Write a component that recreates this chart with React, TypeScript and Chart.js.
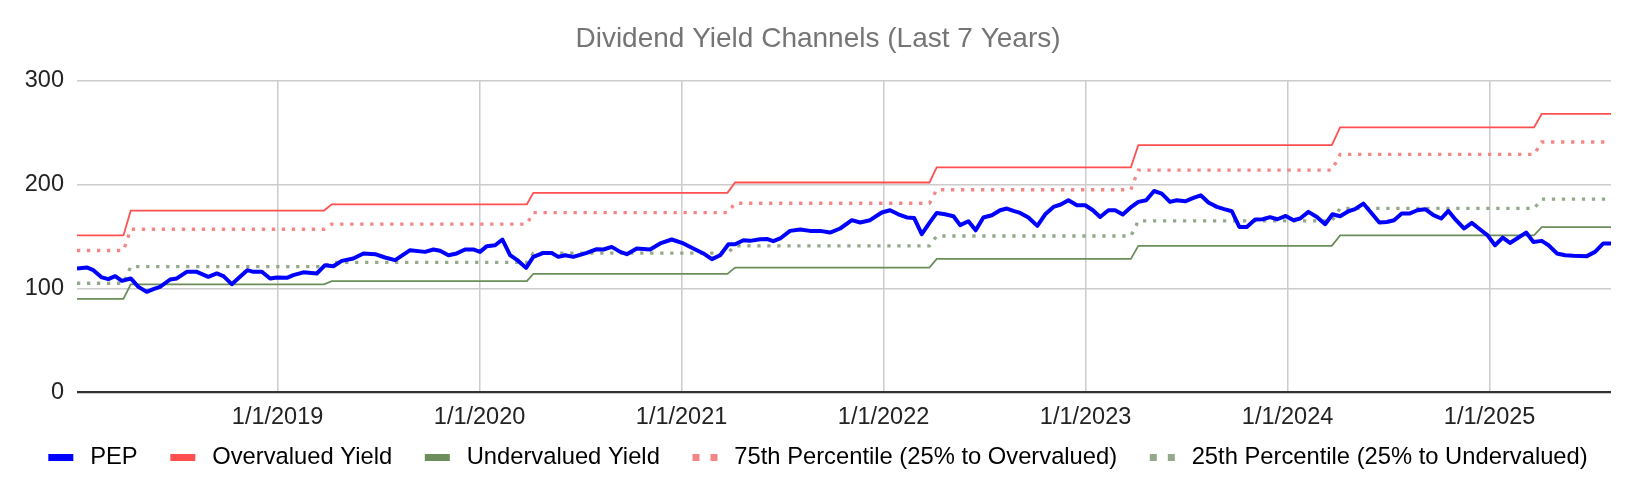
import React, { useEffect, useRef } from "react";
import { Chart, registerables, Plugin } from "chart.js";

Chart.register(...registerables);

const FONT = "'Liberation Sans', Arial, sans-serif";
const titleText = "Dividend Yield Channels (Last 7 Years)";

// x positions are decimal years
const xTickYears = [2019, 2020, 2021, 2022, 2023, 2024, 2025];
const xTickLabels = ["1/1/2019", "1/1/2020", "1/1/2021", "1/1/2022", "1/1/2023", "1/1/2024", "1/1/2025"];
const yTicks = [0, 100, 200, 300];

const pepYears = [
  2018.007, 2018.055, 2018.088, 2018.13, 2018.162, 2018.196, 2018.229, 2018.273, 2018.311, 2018.352,
  2018.385, 2018.418, 2018.468, 2018.501, 2018.55, 2018.6, 2018.657, 2018.699, 2018.732, 2018.773,
  2018.814, 2018.85, 2018.88, 2018.922, 2018.963, 2018.996, 2019.046, 2019.078, 2019.128, 2019.194,
  2019.235, 2019.276, 2019.318, 2019.375, 2019.425, 2019.483, 2019.532, 2019.582, 2019.656, 2019.73,
  2019.771, 2019.804, 2019.846, 2019.887, 2019.928, 2019.969, 2020.002, 2020.036, 2020.077, 2020.113,
  2020.151, 2020.192, 2020.23, 2020.266, 2020.316, 2020.357, 2020.39, 2020.423, 2020.464, 2020.531,
  2020.58, 2020.613, 2020.654, 2020.696, 2020.729, 2020.778, 2020.844, 2020.894, 2020.951, 2021.009,
  2021.058, 2021.108, 2021.15, 2021.191, 2021.232, 2021.265, 2021.306, 2021.339, 2021.389, 2021.422,
  2021.454, 2021.488, 2021.537, 2021.587, 2021.636, 2021.686, 2021.735, 2021.785, 2021.843, 2021.884,
  2021.933, 2021.991, 2022.032, 2022.073, 2022.115, 2022.151, 2022.189, 2022.227, 2022.263, 2022.304,
  2022.346, 2022.379, 2022.42, 2022.456, 2022.494, 2022.536, 2022.577, 2022.61, 2022.643, 2022.676,
  2022.717, 2022.761, 2022.8, 2022.841, 2022.877, 2022.915, 2022.957, 2022.998, 2023.036, 2023.072,
  2023.113, 2023.146, 2023.184, 2023.22, 2023.261, 2023.3, 2023.339, 2023.377, 2023.418, 2023.451,
  2023.493, 2023.534, 2023.57, 2023.608, 2023.65, 2023.686, 2023.724, 2023.761, 2023.798, 2023.839,
  2023.877, 2023.913, 2023.949, 2023.991, 2024.029, 2024.062, 2024.103, 2024.145, 2024.186, 2024.222,
  2024.26, 2024.301, 2024.334, 2024.375, 2024.417, 2024.454, 2024.491, 2024.527, 2024.565, 2024.603,
  2024.642, 2024.681, 2024.722, 2024.76, 2024.796, 2024.834, 2024.874, 2024.912, 2024.953, 2024.989,
  2025.027, 2025.065, 2025.101, 2025.143, 2025.181, 2025.217, 2025.258, 2025.292, 2025.333, 2025.374,
  2025.414, 2025.481, 2025.522, 2025.563, 2025.601,
];
const pepValues = [
  119.2, 120.2, 117.6, 110.6, 109.0, 111.8, 107.3, 109.6, 101.5, 96.7,
  99.3, 101.5, 108.6, 109.6, 116.0, 116.0, 111.2, 114.4, 111.8, 104.1,
  111.2, 117.6, 116.0, 116.0, 109.6, 110.6, 110.2, 112.8, 115.5, 114.4,
  122.4, 121.4, 126.5, 128.8, 133.7, 133.0, 129.8, 127.2, 136.8, 135.2,
  137.5, 136.2, 132.0, 133.7, 137.5, 137.5, 135.2, 140.7, 141.6, 147.1,
  132.0, 126.5, 119.8, 130.4, 134.2, 134.2, 130.4, 132.0, 130.4, 134.2,
  137.8, 137.5, 140.0, 135.2, 133.0, 138.5, 137.5, 143.3, 147.1, 143.3,
  138.5, 133.7, 128.2, 132.0, 142.6, 142.6, 146.4, 145.8, 147.4, 147.7,
  145.5, 148.1, 155.4, 156.7, 155.4, 155.4, 153.8, 157.7, 165.7, 163.5,
  165.7, 173.1, 175.3, 171.4, 168.3, 167.9, 152.2, 163.1, 172.7, 171.4,
  169.5, 160.9, 164.7, 156.0, 168.3, 170.5, 175.3, 176.9, 174.6, 172.7,
  168.3, 160.2, 171.4, 178.5, 180.8, 184.9, 180.1, 180.1, 175.3, 168.8,
  175.3, 175.3, 171.2, 177.5, 183.3, 184.9, 193.8, 191.3, 183.3, 184.9,
  183.9, 187.1, 189.7, 182.7, 178.5, 176.3, 174.3, 159.2, 159.2, 166.3,
  166.6, 168.6, 166.6, 169.8, 165.7, 167.3, 173.7, 168.8, 161.8, 171.4,
  169.5, 174.3, 176.3, 181.7, 172.1, 163.5, 164.0, 165.7, 172.1, 172.1,
  175.3, 176.3, 170.5, 167.3, 174.6, 165.7, 157.7, 163.1, 156.7, 151.3,
  141.6, 149.0, 143.8, 149.0, 153.8, 144.8, 145.8, 141.6, 133.7, 132.0,
  131.4, 131.1, 135.2, 143.3, 143.3,
];

// yearly channel resets (last point of old level -> first point of new level)
const stepFrom = [2018.237, 2019.23, 2020.234, 2021.227, 2022.227, 2023.224, 2024.219, 2025.22];
const stepTo = [2018.273, 2019.268, 2020.266, 2021.265, 2022.263, 2023.261, 2024.26, 2025.258];

const overvalued = [151, 175, 181, 192, 202, 216.6, 238, 255, 268];
const undervalued = [90, 104, 107, 114, 120, 128.5, 141, 151, 159];
const pct75 = [136.5, 157, 162, 173, 182, 195, 214, 229, 241];
const pct25 = [105, 121, 125, 134, 141, 150.5, 165, 177, 186];

const seriesNames = [
  "PEP",
  "Overvalued Yield",
  "Undervalued Yield",
  "75th Percentile (25% to Overvalued)",
  "25th Percentile (25% to Undervalued)",
];
const seriesColors = ["#0000ff", "#ff4f4f", "#6b8e5b", "#f48686", "#94a98b"];

const xStart = pepYears[0];
const xEnd = pepYears[pepYears.length - 1];

function stepPoints(levels: number[]) {
  const pts = [{ x: xStart, y: levels[0] }];
  stepFrom.forEach((f, i) => {
    pts.push({ x: f, y: levels[i] }, { x: stepTo[i], y: levels[i + 1] });
  });
  pts.push({ x: xEnd, y: levels[levels.length - 1] });
  return pts;
}

// legend swatch: blank lead-in (extra gap between items), 25px mark, short tail
const SW_LEAD = 16;
const SW_WIDTH = 46;

function makeSwatch(color: string, dotted: boolean) {
  const c = document.createElement("canvas");
  c.width = SW_WIDTH;
  c.height = 7;
  const g = c.getContext("2d")!;
  g.fillStyle = color;
  if (dotted) {
    g.fillRect(SW_LEAD, 0, 7, 7);
    g.fillRect(SW_LEAD + 18, 0, 7, 7);
  } else {
    g.fillRect(SW_LEAD, 0, 25, 7);
  }
  return c;
}

// the blank lead-in of the first swatch pushes the row right; pull it back
const legendShift: Plugin<"line"> = {
  id: "legendShift",
  afterLayout(chart) {
    const lg = chart.legend;
    if (lg) {
      lg.left -= SW_LEAD / 2;
      lg.right -= SW_LEAD / 2;
    }
  },
};

const App: React.FC = () => {
  const canvasRef = useRef<HTMLCanvasElement | null>(null);

  useEffect(() => {
    const ctx = canvasRef.current?.getContext("2d");
    if (!ctx) return;

    const swatches = seriesColors.map((c, i) => makeSwatch(c, i >= 3));
    const tickFont = { family: FONT, size: 23.5 };
    const legendFont = { family: FONT, size: 23.75 };

    const chart = new Chart(ctx, {
      type: "line",
      data: {
        datasets: [
          {
            label: seriesNames[0],
            data: pepYears.map((x, i) => ({ x, y: pepValues[i] })),
            borderColor: seriesColors[0],
            borderWidth: 4,
            borderJoinStyle: "round",
          },
          {
            label: seriesNames[1],
            data: stepPoints(overvalued),
            borderColor: seriesColors[1],
            borderWidth: 1.8,
          },
          {
            label: seriesNames[2],
            data: stepPoints(undervalued),
            borderColor: seriesColors[2],
            borderWidth: 1.8,
          },
          {
            label: seriesNames[3],
            data: stepPoints(pct75),
            borderColor: seriesColors[3],
            borderWidth: 3.3,
            borderDash: [3.3, 6.7],
          },
          {
            label: seriesNames[4],
            data: stepPoints(pct25),
            borderColor: seriesColors[4],
            borderWidth: 3.3,
            borderDash: [3.3, 6.7],
          },
        ],
      },
      options: {
        responsive: false,
        animation: false,
        events: [],
        parsing: false,
        elements: { point: { radius: 0 }, line: { tension: 0 } },
        layout: { padding: { left: 0, right: 0, top: 0, bottom: 14.35 } },
        plugins: {
          title: {
            display: true,
            text: titleText,
            color: "#757575",
            font: { family: FONT, size: 28, weight: "normal" },
            padding: { top: 22.8, bottom: 24.3 },
          },
          legend: {
            position: "bottom",
            labels: {
              usePointStyle: true,
              pointStyleWidth: SW_WIDTH,
              padding: 16.6,
              color: "#222222",
              font: legendFont,
              generateLabels: (ch) =>
                ch.data.datasets.map((ds, i) => ({
                  text: ds.label as string,
                  datasetIndex: i,
                  pointStyle: swatches[i],
                  fillStyle: seriesColors[i],
                  strokeStyle: seriesColors[i],
                  lineWidth: 0,
                  hidden: false,
                })),
            },
          },
          tooltip: { enabled: false },
        },
        scales: {
          x: {
            type: "linear",
            min: xStart,
            max: xEnd,
            afterBuildTicks: (s) => {
              s.ticks = xTickYears.map((v) => ({ value: v }));
            },
            afterFit: (s) => {
              s.height = 37;
            },
            ticks: {
              callback: (_v, i) => xTickLabels[i],
              padding: 11.4,
              maxRotation: 0,
              autoSkip: false,
              color: "#222222",
              font: tickFont,
            },
            grid: { color: "#cccccc", lineWidth: 1.5, drawTicks: false },
            border: { display: false },
          },
          y: {
            min: 0,
            max: 300,
            afterBuildTicks: (s) => {
              s.ticks = yTicks.map((v) => ({ value: v }));
            },
            afterFit: (s) => {
              s.width = 77;
            },
            ticks: { padding: 13, color: "#222222", font: tickFont },
            grid: {
              drawTicks: false,
              color: (c) => (c.tick && c.tick.value === 0 ? "#333333" : "#cccccc"),
              lineWidth: (c) => (c.tick && c.tick.value === 0 ? 2.2 : 1.5),
            },
            border: { display: false },
          },
          yRight: {
            position: "right",
            ticks: { display: false },
            grid: { display: false },
            border: { display: false },
            afterFit: (s) => {
              s.width = 25;
            },
          },
        },
      },
      plugins: [legendShift],
    });

    return () => {
      chart.destroy();
    };
  }, []);

  return (
    <div style={{ position: "absolute", left: 0, top: 0, width: 1636, height: 494, background: "#fff" }}>
      <canvas ref={canvasRef} width={1636} height={494} style={{ display: "block" }} />
    </div>
  );
};

export default App;
